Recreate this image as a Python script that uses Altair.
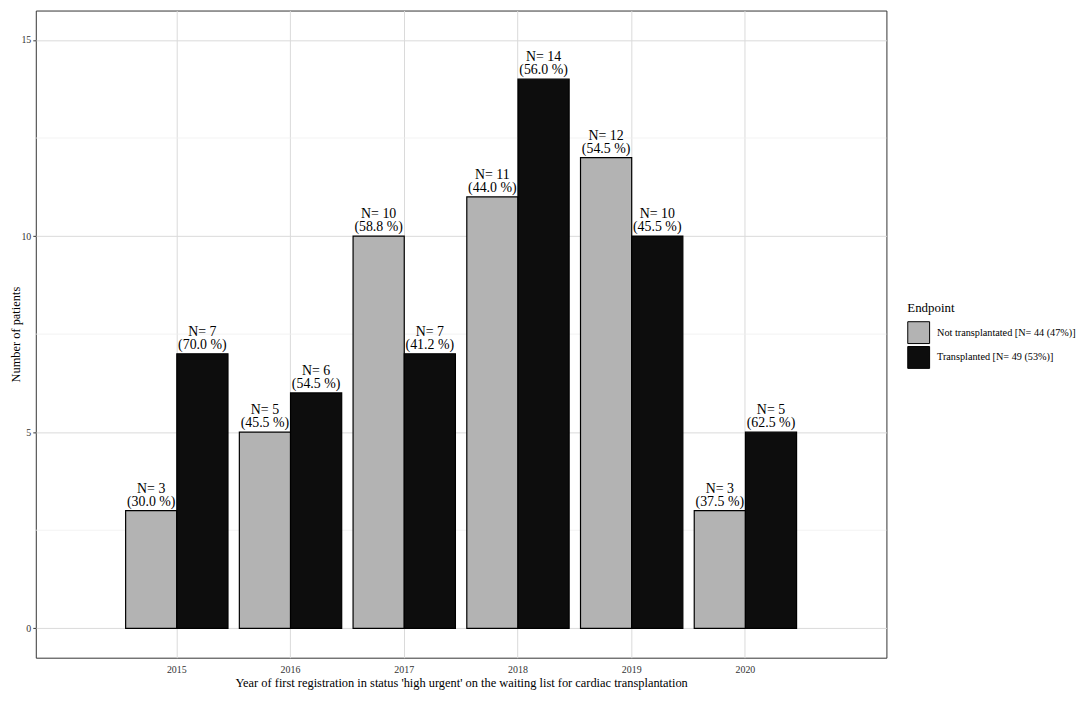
import altair as alt
import pandas as pd

years = ["2015", "2016", "2017", "2018", "2019", "2020"]
groups = ["Not transplantated [N= 44 (47%)]", "Transplanted [N= 49 (53%)]"]
not_tx = [3, 5, 10, 11, 12, 3]
tx = [7, 6, 7, 14, 10, 5]
not_tx_pct = ["30.0", "45.5", "58.8", "44.0", "54.5", "37.5"]
tx_pct = ["70.0", "54.5", "41.2", "56.0", "45.5", "62.5"]
minor_grid = [2.5, 7.5, 12.5]

rows = []
for i, y in enumerate(years):
    rows.append({"year": y, "group": groups[0], "n": not_tx[i],
                 "label": f"N= {not_tx[i]}\n({not_tx_pct[i]} %)"})
    rows.append({"year": y, "group": groups[1], "n": tx[i],
                 "label": f"N= {tx[i]}\n({tx_pct[i]} %)"})
df = pd.DataFrame(rows)
minor_df = pd.DataFrame({"v": minor_grid})

FONT = "Liberation Serif"

yscale = alt.Scale(domain=[-0.75, 15.75], nice=False, zero=False)
xscale = alt.Scale(paddingInner=0.1, paddingOuter=0.79)

minor = alt.Chart(minor_df).mark_rule(color="#eeeeee", strokeWidth=0.8).encode(
    y=alt.Y("v:Q", scale=yscale)
)

base = alt.Chart(df).encode(
    x=alt.X("year:N", scale=xscale, sort=years,
            axis=alt.Axis(title="Year of first registration in status 'high urgent' on the waiting list for cardiac transplantation",
                          labelAngle=0, ticks=False, domain=False, grid=True,
                          gridColor="#dadada", gridWidth=1, bandPosition=0.5,
                          labelColor="#333333", labelFontSize=10, labelPadding=7,
                          titleFontSize=12.5, titleFontWeight="normal", titlePadding=2,
                          titleColor="#000000")),
    xOffset=alt.XOffset("group:N", sort=groups),
)

bars = base.mark_bar(stroke="black", strokeWidth=1.2).encode(
    y=alt.Y("n:Q", scale=yscale,
            axis=alt.Axis(title="Number of patients", values=[0, 5, 10, 15],
                          grid=True, gridColor="#dadada", gridWidth=1,
                          domain=False, tickSize=3, tickColor="#333333",
                          labelColor="#333333", labelFontSize=10, labelPadding=2,
                          titleFontSize=12.5, titleFontWeight="normal",
                          titleX=-20, titleBaseline="middle",
                          titleColor="#000000")),
    color=alt.Color("group:N", sort=groups,
                    scale=alt.Scale(domain=groups, range=["#b3b3b3", "#0d0d0d"]),
                    legend=alt.Legend(title="Endpoint", orient="none",
                                      legendX=878, legendY=294,
                                      symbolType="square", symbolSize=484,
                                      symbolStrokeColor="black", symbolStrokeWidth=1,
                                      symbolOpacity=1, rowPadding=-3,
                                      labelFontSize=10.3, labelOffset=7,
                                      labelLimit=220,
                                      titleFontSize=13, titleFontWeight="normal",
                                      titlePadding=6, labelColor="#000000")),
)

labels = base.mark_text(baseline="bottom", dy=-15, fontSize=14, lineHeight=13,
                        lineBreak="\n", color="black", font=FONT).encode(
    y=alt.Y("n:Q", scale=yscale),
    text="label:N",
)

chart = alt.layer(minor, bars, labels).properties(
    width=857, height=652,
    autosize=alt.AutoSizeParams(type="none"),
    padding={"left": 28, "top": 0, "right": 191, "bottom": 33},
).configure(font=FONT).configure_view(
    stroke="#333333", strokeWidth=1
)

chart.save("out.html", embed_options={"renderer": "svg", "actions": False})
